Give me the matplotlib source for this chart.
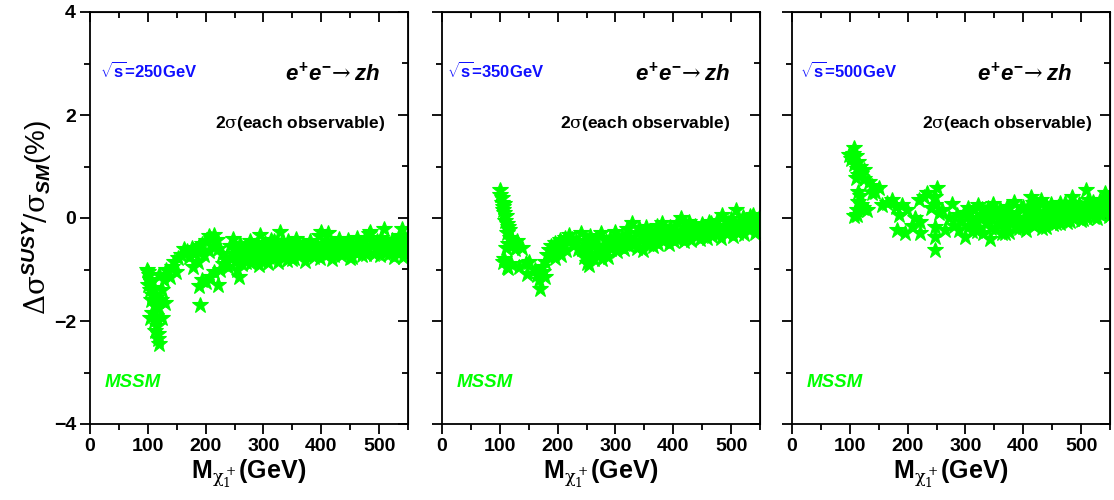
import numpy as np
import matplotlib
matplotlib.use("Agg")
import matplotlib.pyplot as plt
from matplotlib.ticker import MultipleLocator

plt.rcParams["font.family"] = ["Liberation Sans", "DejaVu Sans"]
plt.rcParams["font.weight"] = "bold"
plt.rcParams["mathtext.fontset"] = "custom"
plt.rcParams["mathtext.rm"] = "DejaVu Serif:weight=normal"
plt.rcParams["mathtext.bf"] = "Liberation Sans:bold"
plt.rcParams["mathtext.it"] = "Liberation Sans:italic:bold"

# panel 1: sqrt(s) = 250 GeV
x250 = [98, 100, 102, 104, 100, 103, 106, 108, 105, 110, 112, 108, 103, 110, 114, 116, 112, 118, 120, 115,
        118, 122, 125, 128, 120, 124, 130, 117,
        132, 138, 142, 148, 145, 152, 158, 163, 168, 172, 176, 180, 184, 188, 194, 200, 205, 210, 215, 220,
        212, 206, 198, 186, 178, 222, 228,
        190, 188, 194, 200, 208, 215, 222, 225, 230, 235, 238,
        242, 245, 248, 250, 252, 255, 257, 258, 260, 263, 265, 268, 270, 273, 276, 278, 280, 284, 287, 290,
        292, 294, 296, 299, 302, 305, 308, 310, 313, 316, 319, 322, 325, 328, 330, 333, 336, 340, 343, 346,
        350, 353, 356, 360, 364, 368, 372, 376, 380, 384, 388, 392, 396, 400, 402, 406, 410, 412, 415, 418,
        422, 426, 430, 434, 438, 442, 446, 450, 454, 458, 462, 466, 470, 474, 478, 482, 485, 488, 492, 496,
        500, 504, 508, 511, 514, 518, 522, 526, 530, 534, 538, 540, 543, 546, 548, 549,
        246, 254, 262, 270, 278, 286, 294, 302, 310, 318, 326, 334, 342, 350, 358, 366, 374, 382, 390, 398,
        406, 414, 422, 430, 438, 446, 454, 462, 470, 478, 486, 494, 502, 510, 518, 526, 534, 542]
y250 = [-1.0, -1.05, -1.1, -1.2, -1.3, -1.4, -1.25, -1.5, -1.6, -1.35, -1.7, -1.85, -1.95, -2.0, -1.9, -2.1,
        -2.2, -2.25, -2.45, -1.55, -1.75, -1.6, -1.4, -1.2, -1.1, -1.95, -1.65, -2.35,
        -1.0, -1.15, -0.95, -1.05, -0.85, -0.78, -0.72, -0.6, -0.65, -0.75, -0.58, -0.7, -0.62, -0.55, -0.5,
        -0.45, -0.35, -0.4, -0.33, -0.42, -0.55, -0.65, -0.72, -0.85, -0.95, -0.6, -0.7,
        -1.69, -1.33, -1.2, -1.25, -1.15, -1.05, -1.3, -1.0, -0.9, -0.82, -0.95,
        -0.55, -0.7, -0.4, -0.85, -0.62, -1.0, -1.14, -0.75, -0.5, -0.9, -0.65, -0.8, -0.55, -0.72, -0.45,
        -0.88, -0.62, -0.78, -0.52, -0.7, -0.92, -0.33, -0.6, -0.8, -0.48, -0.68, -0.88, -0.58, -0.42, -0.75,
        -0.55, -0.65, -0.85, -0.27, -0.5, -0.7, -0.6, -0.82, -0.45, -0.68, -0.55, -0.78, -0.4, -0.62, -0.72,
        -0.5, -0.84, -0.58, -0.44, -0.66, -0.75, -0.52, -0.35, -0.27, -0.62, -0.72, -0.45, -0.3, -0.58, -0.8,
        -0.5, -0.65, -0.4, -0.72, -0.55, -0.62, -0.42, -0.78, -0.5, -0.66, -0.38, -0.58, -0.72, -0.45, -0.62,
        -0.32, -0.27, -0.55, -0.7, -0.45, -0.6, -0.38, -0.22, -0.68, -0.5, -0.62, -0.42, -0.75, -0.55, -0.35,
        -0.65, -0.22, -0.48, -0.7, -0.4, -0.58,
        -0.78, -0.6, -0.72, -0.85, -0.5, -0.65, -0.82, -0.58, -0.75, -0.45, -0.7, -0.52, -0.65, -0.8, -0.48,
        -0.6, -0.7, -0.55, -0.62, -0.78, -0.5, -0.68, -0.72, -0.55, -0.7, -0.6, -0.75, -0.52, -0.62, -0.7,
        -0.45, -0.6, -0.72, -0.55, -0.7, -0.48, -0.62, -0.75]

# panel 2: sqrt(s) = 350 GeV
x350 = [100, 101, 103, 104, 106, 107, 105, 108, 110, 109, 112, 114, 116, 113, 118, 120, 115, 110, 122, 130,
        138, 126,
        105, 107, 112, 115, 120, 133, 145, 150, 147, 160, 165, 170, 168, 175, 179, 173, 178,
        182, 185, 188, 192, 196, 200, 204, 208, 212, 216, 219, 224, 228, 232, 236, 205, 195, 215,
        240, 243, 246, 248, 250, 252, 254, 256, 258, 260, 263, 266, 269, 272, 275, 278, 281, 284, 287, 290,
        293, 296, 299, 302, 305, 308, 311, 314, 317, 320, 323, 326, 329, 332, 335, 338, 341, 344, 347, 350,
        353, 356, 359, 362, 365, 368, 371, 374, 377, 380, 383, 386, 389, 392, 395, 398, 401, 404, 407, 410,
        413, 416, 419, 422, 425, 428, 431, 434, 437, 440, 443, 446, 449, 452, 455, 458, 461, 464, 467, 470,
        473, 476, 479, 482, 485, 488, 491, 494, 497, 500, 503, 506, 508, 511, 514, 517, 520, 523, 526, 529,
        532, 535, 538, 541, 544, 547, 549,
        248, 262, 276, 290, 304, 318, 334, 348, 362, 376, 392, 406, 420, 436, 450, 466, 480, 496, 512, 528,
        544]
y350 = [0.54, 0.45, 0.38, 0.3, 0.22, 0.28, 0.15, 0.1, 0.03, -0.05, -0.12, -0.18, -0.23, -0.3, -0.38, -0.43,
        -0.5, -0.59, -0.52, -0.45, -0.59, -0.6,
        -0.85, -0.8, -0.95, -0.98, -0.9, -0.95, -0.88, -0.85, -1.08, -1.0, -1.11, -1.37, -1.2, -1.05, -1.14,
        -0.95, -0.85,
        -0.72, -0.62, -0.55, -0.65, -0.49, -0.58, -0.42, -0.5, -0.38, -0.45, -0.33, -0.4, -0.52, -0.45, -0.6,
        -0.72, -0.78, -0.62,
        -0.3, -0.6, -0.75, -0.45, -0.88, -0.55, -0.91, -0.35, -0.7, -0.5, -0.8, -0.4, -0.62, -0.72, -0.3,
        -0.55, -0.68, -0.45, -0.75, -0.38, -0.6, -0.5, -0.28, -0.65, -0.42, -0.55, -0.35, -0.6, -0.48, -0.22,
        -0.55, -0.38, -0.1, -0.5, -0.3, -0.58, -0.2, -0.45, -0.62, -0.32, -0.18, -0.5, -0.38, -0.25, -0.55,
        -0.42, -0.15, -0.5, -0.32, -0.1, -0.45, -0.25, -0.38, -0.5, -0.18, -0.35, -0.45, -0.25, -0.1, -0.38,
        0.0, -0.3, -0.45, -0.2, -0.35, -0.08, -0.42, -0.28, -0.15, -0.35, -0.22, -0.4, -0.12, -0.3, -0.2,
        -0.38, -0.08, -0.25, -0.35, -0.15, -0.3, -0.05, -0.22, -0.38, 0.06, -0.18, -0.3, -0.1, -0.25, -0.02,
        -0.35, -0.15, 0.16, -0.28, -0.08, -0.2, 0.02, -0.32, -0.12, -0.22, 0.04, -0.15, 0.06, -0.3, -0.1,
        -0.2, 0.0,
        -0.62, -0.55, -0.8, -0.55, -0.5, -0.38, -0.45, -0.28, -0.45, -0.2, -0.3, -0.4, -0.12, -0.25, -0.32,
        -0.1, -0.3, -0.15, -0.3, -0.05, -0.25]

# panel 3: sqrt(s) = 500 GeV
x500 = [107, 98, 102, 105, 110, 108, 115, 112, 118, 124, 120, 115, 110, 125, 133, 138, 150, 144, 138, 115,
        118, 115, 120, 112, 130, 107, 113, 122,
        156, 165, 173, 180, 190, 199, 185, 182, 196, 222, 222, 213, 208, 219, 228, 234, 251, 248, 248, 240,
        254, 248, 248, 248, 265, 277, 271, 260, 289, 300, 297, 285, 292, 280,
        303, 306, 309, 312, 315, 318, 321, 324, 327, 330, 333, 336, 339, 342, 345, 348, 351, 354, 357, 360,
        363, 366, 369, 372, 375, 378, 381, 384, 387, 390, 393, 396, 399, 402, 405, 408, 411, 413, 416, 419,
        422, 425, 428, 430, 433, 436, 439, 442, 445, 448, 451, 454, 457, 460, 463, 466, 469, 472, 475, 478,
        481, 485, 488, 491, 494, 497, 500, 503, 506, 508, 511, 514, 517, 520, 523, 526, 529, 532, 535, 538,
        541, 544, 547, 549,
        305, 312, 320, 328, 336, 344, 352, 360, 368, 376, 384, 392, 400, 408, 416, 424, 432, 440, 448, 456,
        464, 472, 480, 488, 496, 504, 512, 520, 528, 536, 544, 549]
y500 = [1.35, 1.22, 1.15, 1.25, 1.2, 1.05, 1.09, 0.95, 1.0, 0.93, 0.85, 0.83, 0.78, 0.75, 0.7, 0.62, 0.58,
        0.5, 0.48, 0.51, 0.42, 0.32, 0.25, 0.16, 0.16, 0.03, 0.05, 0.2,
        0.25, 0.3, 0.35, 0.22, 0.25, 0.16, 0.06, -0.23, -0.3, -0.3, -0.07, 0.0, -0.15, 0.35, 0.4, 0.48, 0.58,
        0.41, 0.25, 0.2, 0.09, -0.17, -0.36, -0.62, -0.23, 0.28, 0.0, 0.15, -0.23, -0.36, 0.09, 0.05, -0.08,
        -0.15,
        0.1, -0.15, 0.0, -0.25, 0.15, -0.08, 0.25, -0.2, 0.05, -0.3, 0.12, -0.1, 0.2, -0.4, 0.0, 0.28, -0.22,
        0.08, -0.12, 0.18, -0.3, 0.02, -0.15, 0.22, -0.27, 0.05, -0.08, 0.32, -0.2, 0.1, -0.05, 0.2, -0.18,
        0.0, -0.23, 0.15, -0.1, 0.41, 0.05, -0.15, 0.22, -0.05, 0.12, 0.35, -0.2, 0.05, -0.17, 0.18, -0.05,
        0.28, -0.12, 0.1, 0.0, 0.22, -0.1, 0.15, 0.02, 0.3, -0.08, 0.12, 0.2, 0.41, -0.02, 0.15, 0.05, 0.28,
        -0.04, 0.18, 0.1, 0.54, 0.0, 0.22, 0.12, 0.32, 0.02, 0.25, 0.1, 0.35, 0.05, 0.2, 0.48, 0.12, 0.3,
        0.03,
        0.2, -0.05, -0.25, 0.18, 0.05, -0.2, 0.15, -0.05, -0.3, 0.2, 0.0, -0.2, 0.22, -0.1, 0.3, 0.05, -0.12,
        0.25, 0.02, -0.1, 0.3, 0.1, -0.05, 0.3, 0.12, -0.02, 0.35, 0.15, 0.0, 0.32, 0.2, 0.38]

panels = [
    (x250, y250, r"$\sqrt{\mathbf{s}}$=250GeV", 17, 337, 216),
    (x350, y350, r"$\sqrt{\mathbf{s}}$=350GeV", 9, 334, 204),
    (x500, y500, r"$\sqrt{\mathbf{s}}$=500GeV", 14, 320, 225),
]
lefts = [90, 442, 792]

fig = plt.figure(figsize=(11.14, 5.0), dpi=100)
green = "#00ff00"

for i, (xs, ys, energy, ex, px, sx) in enumerate(panels):
    ax = fig.add_axes([lefts[i] / 1114, 1 - 424 / 500, 318 / 1114, 412 / 500])
    ax.plot(xs, ys, linestyle="none", marker="*", markersize=12, color=green,
            markeredgecolor=green, markeredgewidth=0.8)
    ax.set_xlim(0, 550)
    ax.set_ylim(-4, 4)
    ax.xaxis.set_major_locator(MultipleLocator(100))
    ax.xaxis.set_minor_locator(MultipleLocator(50))
    ax.yaxis.set_major_locator(MultipleLocator(2))
    ax.yaxis.set_minor_locator(MultipleLocator(1))
    ax.tick_params(which="both", direction="out", width=1.3, labelsize=14, pad=3)
    ax.tick_params(which="major", length=7)
    ax.tick_params(which="minor", length=4)
    for lab in ax.get_xticklabels() + ax.get_yticklabels():
        lab.set_fontweight("bold")
    if i > 0:
        ax.tick_params(axis="y", labelleft=False)
    for sp in ax.spines.values():
        sp.set_linewidth(1.3)

    top = ax.secondary_xaxis("top")
    top.xaxis.set_major_locator(MultipleLocator(100))
    top.xaxis.set_minor_locator(MultipleLocator(50))
    top.tick_params(which="both", direction="in", width=1.3, labeltop=False)
    top.tick_params(which="major", length=7)
    top.tick_params(which="minor", length=4)
    right = ax.secondary_yaxis("right")
    right.yaxis.set_major_locator(MultipleLocator(2))
    right.yaxis.set_minor_locator(MultipleLocator(1))
    right.tick_params(which="both", direction="in", width=1.3, labelright=False)
    right.tick_params(which="major", length=7)
    right.tick_params(which="minor", length=4)

    ax.text(ex, 2.85, energy, color="#1010ff", fontsize=12, fontweight="bold", va="center", ha="left")
    ax.text(px, 2.78, r"$e^{\mathbf{+}}e^{\mathbf{-}}\!\rightarrow zh$", fontsize=16, va="center", ha="left")
    ax.text(sx, 1.83, r"2$\mathrm{\sigma}$(each observable)", fontsize=12.5, fontweight="bold",
            va="center", ha="left")
    ax.text(26, -3.2, "MSSM", color=green, fontsize=13.5, fontweight="bold", fontstyle="italic",
            va="center", ha="left")
    ax.set_xlabel(r"M$_{\mathrm{\chi}_1^+}$(GeV)", fontsize=18, fontweight="bold", labelpad=2)
    if i == 0:
        ax.set_ylabel(r"$\mathrm{\Delta\sigma}^{SUSY}/\mathrm{\sigma}_{SM}$(%)", fontsize=20,
                      fontweight="normal", labelpad=0)

fig.savefig("out.png", dpi=100)
